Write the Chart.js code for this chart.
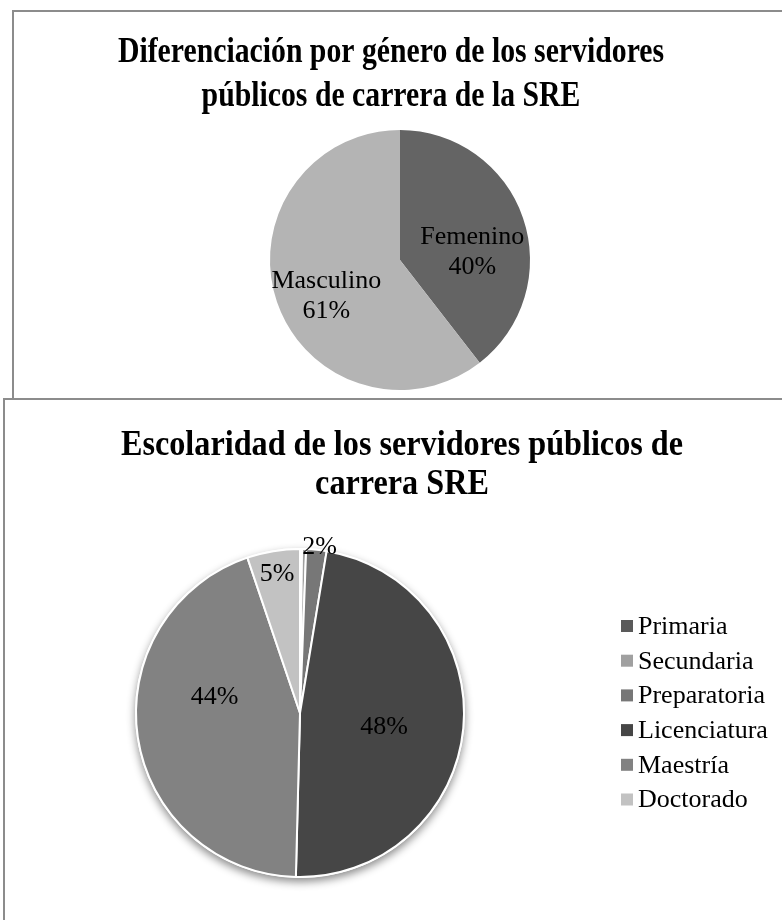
<!DOCTYPE html>
<html>
<head>
<meta charset="utf-8">
<script src="https://cdn.jsdelivr.net/npm/chart.js@4/dist/chart.umd.min.js"></script>
<style>
  html, body { margin: 0; padding: 0; background: #fff; }
  body { width: 782px; height: 920px; position: relative; overflow: hidden; }
  .box { position: absolute; background: #fff; border: 2px solid #8c8c8c; }
  #box1 { left: 12px; top: 10px; width: 800px; height: 500px; }
  #box2 { left: 3px; top: 398px; width: 820px; height: 600px; }
  canvas { position: absolute; left: 0; top: 0; }
</style>
</head>
<body>
<div class="box" id="box1"></div>
<div class="box" id="box2"></div>
<canvas id="genero-chart" width="782" height="920"></canvas>
<canvas id="escolaridad-chart" width="782" height="920"></canvas>
<script>
// Datos (porcentajes)
const generoLabels = ["Femenino", "Masculino"];
const generoValues = [39.5, 60.5];
const generoColors = ["#646464", "#b4b4b4"];

const escolaridadLabels = ["Primaria", "Secundaria", "Preparatoria", "Licenciatura", "Maestría", "Doctorado"];
const escolaridadValues = [0.2, 0.4, 2.0, 47.8, 44.4, 5.2];
const escolaridadColors = ["#5a5a5a", "#a0a0a0", "#777777", "#464646", "#828282", "#c2c2c2"];

const SERIF = "'Liberation Serif', 'Times New Roman', serif";

// Titulo en negritas, condensado
const titlePlugin = {
  id: "condTitle",
  afterDraw(chart, args, opts) {
    const ctx = chart.ctx;
    ctx.save();
    ctx.font = "bold " + opts.size + "px " + SERIF;
    ctx.fillStyle = "#000";
    ctx.textAlign = "center";
    ctx.textBaseline = "alphabetic";
    opts.lines.forEach((line, i) => {
      ctx.save();
      ctx.translate(opts.x, opts.y + i * opts.lineHeight);
      ctx.scale(opts.scaleX, 1);
      ctx.fillText(line, 0, 0);
      ctx.restore();
    });
    ctx.restore();
  },
};

// Etiquetas de porcentaje en cada rebanada
const sliceLabels = {
  id: "sliceLabels",
  afterDatasetsDraw(chart, args, opts) {
    const ctx = chart.ctx;
    const meta = chart.getDatasetMeta(0);
    const values = chart.data.datasets[0].data;
    ctx.save();
    ctx.font = opts.size + "px " + SERIF;
    ctx.fillStyle = "#000";
    ctx.textAlign = "center";
    ctx.textBaseline = "middle";
    meta.data.forEach((arc, i) => {
      const f = opts.radius[i];
      if (!f) return;
      const p = arc.getProps(["x", "y", "startAngle", "endAngle", "outerRadius"], true);
      const mid = (p.startAngle + p.endAngle) / 2 + (opts.shift[i] || 0) * Math.PI / 180;
      const cx = p.x + Math.cos(mid) * p.outerRadius * f;
      const cy = p.y + Math.sin(mid) * p.outerRadius * f;
      const pct = Math.round(values[i]) + "%";
      const lines = opts.showName ? [chart.data.labels[i], pct] : [pct];
      const h = opts.lineHeight;
      lines.forEach((t, j) => {
        ctx.fillText(t, cx, cy + (j - (lines.length - 1) / 2) * h);
      });
    });
    ctx.restore();
  },
};

// Sombra suave bajo el pastel
const pieShadow = {
  id: "pieShadow",
  beforeDatasetsDraw(chart, args, opts) {
    if (!opts.enabled) return;
    const arc = chart.getDatasetMeta(0).data[0];
    if (!arc) return;
    const p = arc.getProps(["x", "y", "outerRadius"], true);
    const ctx = chart.ctx;
    ctx.save();
    ctx.shadowColor = "rgba(0, 0, 0, 0.45)";
    ctx.shadowBlur = 9;
    ctx.shadowOffsetY = 4;
    ctx.beginPath();
    ctx.arc(p.x, p.y, p.outerRadius + 1, 0, Math.PI * 2);
    ctx.fillStyle = "#ffffff";
    ctx.fill();
    ctx.restore();
  },
};

// Leyenda a la derecha
const sideLegend = {
  id: "sideLegend",
  afterDraw(chart, args, opts) {
    if (!opts.enabled) return;
    const ctx = chart.ctx;
    const colors = chart.data.datasets[0].backgroundColor;
    ctx.save();
    ctx.font = opts.size + "px " + SERIF;
    ctx.textAlign = "left";
    ctx.textBaseline = "middle";
    chart.data.labels.forEach((label, i) => {
      const cy = opts.y + i * opts.gap;
      ctx.fillStyle = colors[i];
      ctx.fillRect(opts.x, cy - opts.box / 2, opts.box, opts.box);
      ctx.fillStyle = "#000";
      ctx.fillText(label, opts.x + opts.box + 5, cy + 1);
    });
    ctx.restore();
  },
};

const basePlugins = [titlePlugin, sliceLabels, pieShadow, sideLegend];

new Chart(document.getElementById("genero-chart"), {
  type: "pie",
  data: {
    labels: generoLabels,
    datasets: [{ data: generoValues, backgroundColor: generoColors, borderWidth: 0 }],
  },
  options: {
    responsive: false,
    animation: false,
    layout: { padding: { left: 270, right: 252, top: 130, bottom: 530 } },
    plugins: {
      legend: { display: false },
      tooltip: { enabled: false },
      condTitle: {
        lines: ["Diferenciación por género de los servidores", "públicos de carrera de la SRE"],
        x: 391, y: 62, lineHeight: 44, size: 35, scaleX: 0.85,
      },
      sliceLabels: { radius: [0.56, 0.63], shift: [12.5, -7], showName: true, size: 26, lineHeight: 30 },
      pieShadow: { enabled: false },
      sideLegend: { enabled: false },
    },
  },
  plugins: basePlugins,
});

new Chart(document.getElementById("escolaridad-chart"), {
  type: "pie",
  data: {
    labels: escolaridadLabels,
    datasets: [{
      data: escolaridadValues,
      backgroundColor: escolaridadColors,
      borderColor: "#ffffff",
      borderWidth: 2,
    }],
  },
  options: {
    responsive: false,
    animation: false,
    layout: { padding: { left: 135, right: 317, top: 548, bottom: 42 } },
    plugins: {
      legend: { display: false },
      tooltip: { enabled: false },
      condTitle: {
        lines: ["Escolaridad de los servidores públicos de", "carrera SRE"],
        x: 402, y: 455, lineHeight: 39, size: 35, scaleX: 0.92,
      },
      sliceLabels: { radius: [0, 0, 1.02, 0.52, 0.53, 0.86], shift: [0, 0, 1, 4, 19, 0], showName: false, size: 26, lineHeight: 29 },
      pieShadow: { enabled: true },
      sideLegend: { enabled: true, x: 621, y: 626, gap: 34.7, box: 12, size: 26 },
    },
  },
  plugins: basePlugins,
});
</script>
</body>
</html>
